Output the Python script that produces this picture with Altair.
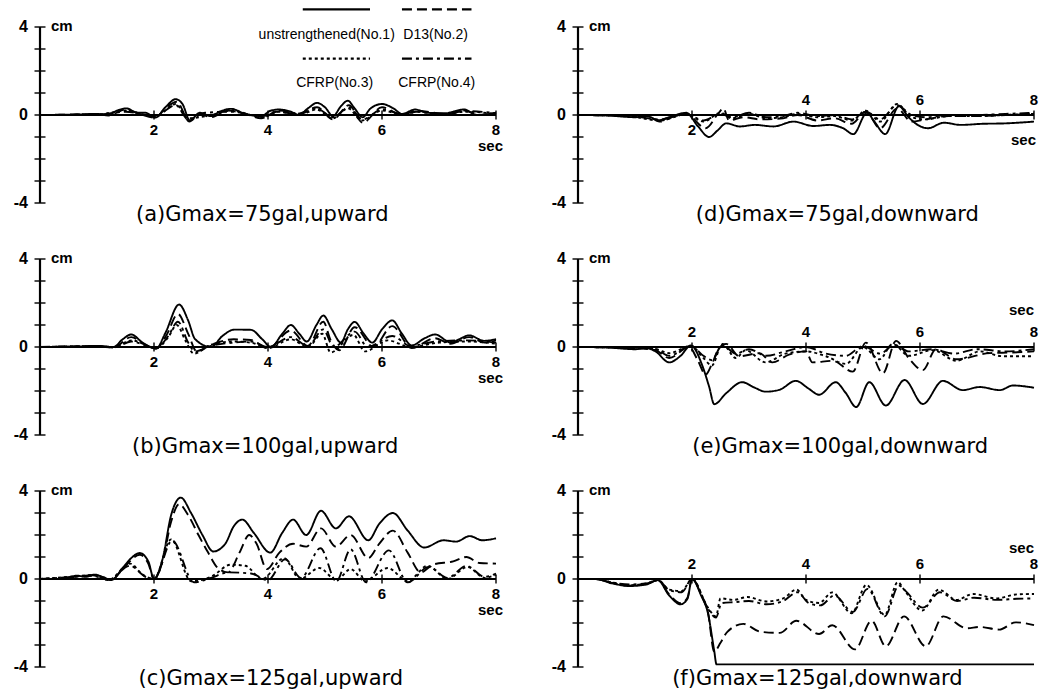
import altair as alt
import pandas as pd

# ---------------- data ----------------
SERIES = ["unstrengthened(No.1)", "D13(No.2)", "CFRP(No.3)", "CFRP(No.4)"]
DASHES = [[1, 0], [10, 5], [3, 3], [10, 4, 3, 4]]
X_TICKS = [2, 4, 6, 8]
Y_TICKS = [-4, -3, -2, -1, 0, 1, 2, 3, 4]
Y_LABELS = ["4", "0", "-4"]
Y_LABEL_POS = [4, 0, -4]

# (a) Gmax=75gal, upward
a_no1 = [(0, 0), (0.6, 0.02), (1.0, 0.05), (1.2, 0.0), (1.35, 0.2), (1.52, 0.3), (1.7, 0.1), (1.85, 0.1),
         (2.02, -0.12), (2.2, 0.35), (2.38, 0.72), (2.5, 0.5), (2.63, -0.25), (2.8, 0.1), (3.0, -0.05),
         (3.15, 0.15), (3.35, 0.28), (3.6, 0.05), (3.88, -0.05), (4.05, 0.2), (4.2, 0.25), (4.4, 0.15),
         (4.55, 0.0), (4.7, 0.3), (4.86, 0.55), (5.0, 0.35), (5.14, -0.05), (5.28, 0.4), (5.4, 0.65),
         (5.52, 0.3), (5.66, -0.1), (5.8, 0.3), (6.0, 0.5), (6.2, 0.3), (6.35, 0.05), (6.58, 0.25),
         (6.8, 0.1), (7.1, 0.08), (7.44, 0.25), (7.67, 0.0), (8, 0.1)]
a_no2 = [(0, 0), (1.0, 0.03), (1.2, -0.02), (1.5, 0.25), (1.75, 0.05), (2.02, -0.12), (2.2, 0.3), (2.4, 0.6),
         (2.62, -0.3), (2.8, 0.05), (3.0, -0.1), (3.3, 0.2), (3.6, 0.05), (3.88, -0.15), (4.15, 0.15),
         (4.5, 0.05), (4.86, 0.35), (5.14, -0.2), (5.42, 0.45), (5.66, -0.35), (6.0, 0.35), (6.35, 0.0),
         (6.6, 0.2), (7.1, 0.05), (7.45, 0.2), (7.7, 0.0), (8, 0.1)]
a_no3 = [(0, 0), (1.0, 0.02), (1.5, 0.2), (2.02, -0.08), (2.38, 0.5), (2.6, -0.15), (3.0, 0.0), (3.35, 0.2),
         (3.9, -0.1), (4.2, 0.15), (4.55, 0.0), (4.85, 0.25), (5.14, -0.15), (5.4, 0.3), (5.65, -0.25),
         (6.0, 0.2), (6.4, 0.0), (6.6, 0.15), (7.1, 0.03), (7.45, 0.15), (8, 0.05)]
a_no4 = [(0, 0), (1.0, 0.02), (1.5, 0.15), (2.02, -0.05), (2.38, 0.45), (2.6, -0.2), (2.9, 0.1), (3.35, 0.15),
         (3.9, -0.05), (4.2, 0.2), (4.55, 0.05), (4.85, 0.3), (5.14, -0.1), (5.42, 0.35), (5.66, -0.2),
         (6.0, 0.25), (6.4, 0.02), (6.6, 0.15), (7.1, 0.02), (7.45, 0.18), (8, 0.08)]

# (b) Gmax=100gal, upward
b_no1 = [(0, 0), (0.6, 0.02), (1.0, 0.05), (1.29, 0.0), (1.45, 0.35), (1.6, 0.57), (1.8, 0.2), (2.04, -0.07),
         (2.2, 0.64), (2.44, 1.93), (2.6, 1.2), (2.72, 0.36), (3.0, 0.0), (3.2, 0.5), (3.41, 0.79), (3.7, 0.78),
         (3.9, 0.35), (4.05, 0.0), (4.25, 0.6), (4.4, 1.0), (4.55, 0.6), (4.68, 0.25), (4.85, 1.0), (4.97, 1.43),
         (5.12, 0.8), (5.28, 0.2), (5.4, 0.8), (5.52, 1.14), (5.68, 0.6), (5.83, 0.2), (6.0, 0.8), (6.18, 1.21),
         (6.35, 0.6), (6.52, 0.07), (6.75, 0.4), (6.93, 0.57), (7.21, 0.2), (7.35, 0.35), (7.53, 0.53),
         (7.79, 0.28), (8, 0.36)]
b_no2 = [(0, 0), (1.0, 0.04), (1.29, -0.02), (1.6, 0.45), (1.85, 0.1), (2.04, -0.07), (2.22, 0.55), (2.42, 1.5),
         (2.6, 0.6), (2.75, -0.2), (3.0, 0.1), (3.4, 0.35), (3.7, 0.32), (4.0, -0.05), (4.4, 0.75), (4.7, 0.05),
         (4.97, 1.15), (5.1, 0.3), (5.25, -0.15), (5.52, 0.9), (5.85, 0.0), (6.18, 0.95), (6.52, -0.05),
         (6.93, 0.4), (7.2, 0.15), (7.53, 0.45), (7.8, 0.2), (8, 0.3)]
b_no3 = [(0, 0), (1.0, 0.03), (1.3, 0.0), (1.6, 0.3), (2.04, -0.05), (2.25, 0.45), (2.4, 1.0), (2.55, 0.3),
         (2.7, -0.3), (3.0, 0.1), (3.4, 0.25), (3.7, 0.2), (4.0, -0.05), (4.4, 0.35), (4.7, 0.0), (4.95, 0.6),
         (5.1, -0.25), (5.5, 0.55), (5.7, -0.2), (6.1, 0.3), (6.5, 0.0), (7.0, 0.2), (7.5, 0.25), (8, 0.15)]
b_no4 = [(0, 0), (1.0, 0.02), (1.3, -0.02), (1.6, 0.25), (2.04, -0.05), (2.25, 0.5), (2.42, 1.15), (2.6, 0.2),
         (2.72, -0.2), (3.0, 0.05), (3.4, 0.2), (3.7, 0.25), (4.0, 0.0), (4.4, 0.45), (4.7, 0.05), (4.97, 0.8),
         (5.15, 0.0), (5.52, 0.7), (5.75, 0.0), (6.18, 0.5), (6.5, 0.05), (6.95, 0.25), (7.5, 0.3), (8, 0.2)]

# (c) Gmax=125gal, upward
c_no1 = [(0, 0), (0.4, 0.0), (0.65, 0.15), (0.8, 0.1), (0.95, 0.2), (1.1, 0.1), (1.25, -0.05), (1.45, 0.5),
         (1.6, 0.95), (1.75, 1.18), (1.9, 0.8), (2.0, 0.0), (2.15, 0.9), (2.3, 2.9), (2.47, 3.7), (2.65, 3.0),
         (2.85, 2.0), (3.04, 1.25), (3.25, 1.6), (3.4, 2.4), (3.55, 2.7), (3.75, 2.1), (4.04, 1.2), (4.25, 2.1),
         (4.44, 2.7), (4.67, 2.0), (4.93, 3.1), (5.19, 2.3), (5.42, 2.85), (5.76, 1.76), (5.95, 2.5),
         (6.19, 3.0), (6.45, 2.2), (6.74, 1.43), (7.08, 1.76), (7.3, 1.7), (7.54, 1.95), (7.76, 1.76), (8, 1.85)]
c_no2 = [(0, 0), (0.4, 0.0), (0.65, 0.12), (0.95, 0.17), (1.25, -0.05), (1.45, 0.45), (1.75, 1.1), (1.9, 0.7),
         (2.0, 0.0), (2.15, 0.8), (2.3, 2.6), (2.44, 3.4), (2.6, 2.9), (2.78, 2.0), (2.95, 1.2), (3.12, 0.5),
         (3.3, 0.3), (3.5, 1.2), (3.67, 2.0), (3.8, 1.6), (3.98, 0.45), (4.2, 1.2), (4.44, 1.6), (4.67, 1.47),
         (4.93, 2.3), (5.19, 1.47), (5.45, 2.0), (5.76, 0.95), (5.95, 1.6), (6.19, 2.2), (6.45, 1.2),
         (6.68, 0.3), (6.9, 0.66), (7.25, 0.8), (7.48, 1.0), (7.71, 0.73), (8, 0.7)]
c_no3 = [(0, 0), (0.6, 0.12), (0.9, 0.18), (1.2, -0.05), (1.58, 0.7), (1.8, 0.2), (2.0, 0), (2.3, 1.8),
         (2.65, -0.1), (3.0, 0.1), (3.35, 0.65), (3.6, 0.6), (3.9, 0.0), (4.28, 0.95), (4.56, 0), (4.9, 0.5),
         (5.2, -0.05), (5.45, 0.45), (5.7, -0.1), (6.1, 0.5), (6.45, -0.1), (6.8, 0.6), (7.15, 0),
         (7.5, 0.55), (7.8, 0.05), (8, 0.2)]
c_no4 = [(0, 0), (0.6, 0.1), (0.9, 0.15), (1.2, -0.03), (1.58, 0.6), (1.85, 0.1), (2.0, 0), (2.32, 1.75),
         (2.7, -0.15), (3.0, 0.05), (3.3, 0.3), (3.7, 0.25), (4.0, -0.05), (4.3, 0.9), (4.58, 0.05),
         (4.92, 1.4), (5.2, -0.1), (5.45, 1.35), (5.72, -0.15), (6.12, 1.3), (6.45, -0.15), (6.82, 0.55),
         (7.15, 0.05), (7.48, 0.6), (7.8, 0.1), (8, 0.25)]

# (d) Gmax=75gal, downward
d_no1 = [(0, 0), (0.5, -0.02), (1.0, -0.1), (1.2, -0.05), (1.42, -0.24), (1.6, -0.1), (1.9, 0.1), (2.1, -0.5),
         (2.3, -1.0), (2.45, -0.7), (2.6, -0.38), (2.84, -0.52), (3.1, -0.45), (3.43, -0.52), (3.78, -0.3),
         (4.13, -0.5), (4.42, -0.45), (4.65, -0.6), (4.83, -0.87), (5.07, 0.1), (5.2, -0.3), (5.39, -0.87),
         (5.63, 0.4), (5.8, -0.1), (5.96, -0.45), (6.14, -0.6), (6.42, -0.35), (6.71, -0.45), (7.1, -0.4),
         (7.5, -0.38), (8, -0.3)]
d_no2 = [(0, 0), (0.8, -0.03), (1.2, -0.05), (1.45, -0.3), (1.65, -0.1), (1.9, 0.05), (2.24, -0.6), (2.47, 0.1),
         (2.55, 0.3), (2.65, -0.25), (2.9, -0.1), (3.2, -0.2), (3.6, -0.15), (3.85, 0.0), (4.2, -0.25),
         (4.5, -0.15), (4.8, -0.4), (5.05, 0.15), (5.3, -0.6), (5.6, 0.3), (5.85, -0.3), (6.1, -0.2),
         (6.5, -0.05), (7.0, -0.05), (7.5, 0.0), (8, 0.05)]
d_no3 = [(0, 0), (0.8, -0.03), (1.45, -0.25), (1.7, -0.08), (1.9, 0.05), (2.2, -0.3), (2.5, 0.1), (2.7, -0.15),
         (3.0, 0.05), (3.3, -0.15), (3.6, -0.1), (3.85, 0.05), (4.2, -0.1), (4.5, -0.05), (4.8, -0.25),
         (5.05, 0.2), (5.3, -0.3), (5.6, 0.5), (5.85, -0.1), (6.1, -0.2), (6.5, -0.05), (7.0, -0.05),
         (7.5, 0.0), (8, 0.05)]
d_no4 = [(0, 0), (0.8, -0.02), (1.45, -0.2), (1.7, -0.05), (1.9, 0.05), (2.2, -0.25), (2.5, 0.05), (2.7, -0.1),
         (3.0, 0.1), (3.3, -0.1), (3.6, -0.05), (3.85, 0.1), (4.2, -0.05), (4.5, 0.0), (4.8, -0.2),
         (5.05, 0.15), (5.3, -0.2), (5.6, 0.45), (5.85, 0.0), (6.1, -0.1), (6.5, 0.0), (7.0, 0.0),
         (7.5, 0.05), (8, 0.1)]

# (e) Gmax=100gal, downward
e_no1 = [(0, 0), (0.5, -0.02), (1.0, -0.1), (1.2, -0.05), (1.36, -0.2), (1.6, -0.7), (1.8, -0.4), (1.98, 0.07),
         (2.18, -0.84), (2.3, -1.8), (2.39, -2.6), (2.6, -2.1), (2.88, -1.6), (3.1, -1.85), (3.29, -2.03),
         (3.53, -1.95), (3.82, -1.54), (4.05, -1.9), (4.23, -2.17), (4.52, -1.6), (4.7, -2.1), (4.88, -2.73),
         (5.11, -1.6), (5.4, -2.66), (5.73, -1.5), (6.05, -2.59), (6.4, -1.54), (6.75, -1.96), (7.05, -1.82),
         (7.4, -1.96), (7.63, -1.75), (8, -1.85)]
e_no2 = [(0, 0), (1.0, -0.05), (1.36, -0.15), (1.6, -0.5), (1.95, 0.0), (2.1, -0.6), (2.24, -1.26), (2.35, -0.77),
         (2.47, -0.07), (2.6, 0.14), (2.83, -0.42), (3.18, -0.28), (3.41, -0.7), (3.7, -0.35), (4.0, -0.2),
         (4.11, -0.7), (4.47, -0.63), (4.82, -1.12), (5.05, 0.2), (5.35, -1.19), (5.58, 0.28), (5.8, -0.5),
         (6.05, -1.05), (6.28, -0.1), (6.64, -0.56), (7.22, -0.28), (7.6, -0.25), (8, -0.2)]
e_no3 = [(0, 0), (1.0, -0.05), (1.36, -0.1), (1.6, -0.28), (1.98, 0.05), (2.2, -0.5), (2.35, -0.84), (2.53, 0.14),
         (2.77, -0.5), (2.94, -0.15), (3.29, -0.7), (3.64, -0.3), (4.0, -0.2), (4.35, -0.42), (4.7, -0.77),
         (5.0, 0.0), (5.29, -0.56), (5.52, 0.14), (5.81, -0.4), (6.22, -0.14), (6.64, -0.63), (7.05, -0.2),
         (7.45, -0.42), (8, -0.42)]
e_no4 = [(0, 0), (1.0, -0.03), (1.36, -0.1), (1.6, -0.4), (1.98, 0.05), (2.2, -0.4), (2.35, -0.6), (2.53, 0.1),
         (2.77, -0.3), (3.0, -0.1), (3.3, -0.4), (3.64, -0.2), (4.0, 0.0), (4.35, -0.3), (4.7, -0.4),
         (5.0, 0.05), (5.3, -0.3), (5.55, 0.1), (5.8, -0.2), (6.2, -0.1), (6.6, -0.3), (7.0, -0.1),
         (7.5, -0.2), (8, -0.1)]

# (f) Gmax=125gal, downward
f_no1 = [(0, 0), (0.3, 0.0), (0.6, -0.2), (0.9, -0.32), (1.2, -0.25), (1.4, -0.05), (1.6, -0.75), (1.8, -1.15),
         (1.92, -0.9), (2.0, 0.0), (2.16, -0.75), (2.28, -1.56), (2.39, -3.27), (2.43, -3.88), (8, -3.88)]
f_no2 = [(0, 0), (0.3, 0.0), (0.6, -0.18), (0.9, -0.3), (1.2, -0.22), (1.4, -0.05), (1.6, -0.7), (1.8, -1.1),
         (1.92, -0.85), (2.0, 0.0), (2.16, -0.7), (2.28, -1.5), (2.39, -3.3), (2.5, -2.9), (2.62, -2.4),
         (2.9, -2.04), (3.2, -2.4), (3.54, -2.45), (3.83, -1.9), (4.23, -2.5), (4.46, -2.1), (4.86, -3.2),
         (5.15, -1.9), (5.4, -3.06), (5.72, -1.7), (6.1, -3.06), (6.41, -1.7), (6.82, -2.24), (7.05, -2.18),
         (7.39, -2.3), (7.68, -1.97), (8, -2.1)]
f_no3 = [(0, 0), (0.3, 0.0), (0.6, -0.15), (0.9, -0.28), (1.2, -0.2), (1.4, -0.05), (1.6, -0.48), (1.82, -0.55),
         (2.0, 0.0), (2.28, -1.3), (2.42, -1.7), (2.5, -0.88), (2.73, -0.95), (2.97, -0.82), (3.31, -1.02),
         (3.6, -0.88), (3.83, -0.48), (4.0, -0.95), (4.23, -1.09), (4.46, -0.61), (4.8, -1.56), (5.06, -0.27),
         (5.38, -1.63), (5.61, -0.14), (5.72, -0.48), (6.04, -1.43), (6.33, -0.48), (6.64, -0.95),
         (6.93, -0.68), (7.33, -0.88), (7.7, -0.7), (8, -0.68)]
f_no4 = [(0, 0), (0.3, 0.0), (0.6, -0.16), (0.9, -0.25), (1.2, -0.2), (1.4, -0.05), (1.6, -0.5), (1.82, -0.6),
         (2.0, 0.0), (2.28, -1.35), (2.42, -1.75), (2.52, -1.1), (2.75, -1.05), (3.0, -1.0), (3.31, -1.15),
         (3.6, -1.0), (3.85, -0.6), (4.05, -1.1), (4.25, -1.2), (4.5, -0.75), (4.82, -1.5), (5.08, -0.45),
         (5.38, -1.7), (5.63, -0.3), (5.75, -0.55), (6.05, -1.3), (6.35, -0.6), (6.65, -1.0), (6.95, -0.85),
         (7.35, -0.95), (7.7, -0.9), (8, -0.88)]

CAPTIONS = ["(a)Gmax=75gal,upward", "(b)Gmax=100gal,upward", "(c)Gmax=125gal,upward",
            "(d)Gmax=75gal,downward", "(e)Gmax=100gal,downward", "(f)Gmax=125gal,downward"]
CAPTION_T = [3.9, 3.95, 4.05, 4.55, 4.6, 4.2]

# legend placement (panel a)
LEG_T = [4.61, 6.35, 4.61, 6.35]
LEG_T2 = [5.79, 7.57, 5.79, 7.57]
LEG_V = [4.8, 4.8, 2.56, 2.56]
LEG_LAB_T = [5.03, 6.94, 5.17, 6.96]
LEG_LAB_V = [3.64, 3.64, 1.44, 1.44]

# ---------------- styling ----------------
W, H = 456, 176
XS = alt.Scale(domain=[0, 8], nice=False, zero=False)
YS = alt.Scale(domain=[-4, 4], nice=False, zero=False)
NUM_FONT = "Liberation Sans"
CAP_FONT = "DejaVu Sans"
LEG_FONT = "Liberation Sans Narrow, Liberation Sans"


def X(f="t"):
    return alt.X(f"{f}:Q", scale=XS, axis=None)


def Y(f="v"):
    return alt.Y(f"{f}:Q", scale=YS, axis=None)


DASH = alt.StrokeDash("s:N", scale=alt.Scale(domain=SERIES, range=DASHES), legend=None)


def panel(series, caption, cap_t, below, above, sec_dy, sec_dx, legend=False):
    rows = []
    for name, pts in zip(SERIES, series):
        for t, v in pts:
            rows.append({"t": t, "v": v, "s": name})
    df = pd.DataFrame(rows)
    lines = alt.Chart(df).mark_line(color="black", strokeWidth=1.9, interpolate="monotone").encode(
        x=X(), y=Y(), strokeDash=DASH)

    yaxis = alt.Chart(pd.DataFrame({"t": [0.0], "v": [-4.0], "v2": [4.0]})).mark_rule(
        color="black", strokeWidth=2.2).encode(x=X(), y=Y(), y2="v2:Q")
    xaxis = alt.Chart(pd.DataFrame({"t": [0.0], "t2": [8.0], "v": [0.0]})).mark_rule(
        color="black", strokeWidth=1.8).encode(x=X(), x2="t2:Q", y=Y())
    yt = alt.Chart(pd.DataFrame({"t": [0.0] * len(Y_TICKS), "v": Y_TICKS})).mark_tick(
        orient="horizontal", size=11, thickness=2, color="black").encode(x=X(), y=Y())
    xt = alt.Chart(pd.DataFrame({"t": X_TICKS, "v": [0.0] * len(X_TICKS)})).mark_tick(
        orient="vertical", size=9, thickness=2, color="black").encode(x=X(), y=Y())
    ylab = alt.Chart(pd.DataFrame({"t": [0.0] * 3, "v": Y_LABEL_POS, "lab": Y_LABELS})).mark_text(
        align="right", baseline="middle", dx=-12, font=NUM_FONT, fontSize=16, fontWeight="bold",
        color="black").encode(x=X(), y=Y(), text="lab:N")
    cm = alt.Chart(pd.DataFrame({"t": [0.0], "v": [4.0]})).mark_text(
        text="cm", align="left", baseline="middle", dx=11, dy=-1, font=NUM_FONT, fontSize=15,
        fontWeight="bold", color="black").encode(x=X(), y=Y())
    layers = [lines, yaxis, xaxis, yt, xt, ylab, cm]
    if below:
        layers.append(alt.Chart(pd.DataFrame({"t": below, "v": [0.0] * len(below),
                                              "lab": [str(b) for b in below]})).mark_text(
            align="center", baseline="middle", dy=15, font=NUM_FONT, fontSize=15, fontWeight="bold",
            color="black").encode(x=X(), y=Y(), text="lab:N"))
    if above:
        layers.append(alt.Chart(pd.DataFrame({"t": above, "v": [0.0] * len(above),
                                              "lab": [str(b) for b in above]})).mark_text(
            align="center", baseline="middle", dy=-15, font=NUM_FONT, fontSize=15, fontWeight="bold",
            color="black").encode(x=X(), y=Y(), text="lab:N"))
    layers.append(alt.Chart(pd.DataFrame({"t": [8.0], "v": [0.0]})).mark_text(
        text="sec", align="right", baseline="middle", dx=sec_dx, dy=sec_dy, font=NUM_FONT, fontSize=15,
        fontWeight="bold", color="black").encode(x=X(), y=Y()))
    layers.append(alt.Chart(pd.DataFrame({"t": [cap_t], "v": [-4.0]})).mark_text(
        text=caption, align="center", baseline="middle", dy=12, font=CAP_FONT, fontSize=21,
        color="black").encode(x=X(), y=Y()))
    if legend:
        leg = pd.DataFrame({"t": LEG_T, "t2": LEG_T2, "v": LEG_V, "s": SERIES})
        layers.append(alt.Chart(leg).mark_rule(color="black", strokeWidth=2.2).encode(
            x=X(), x2="t2:Q", y=Y(), strokeDash=DASH))
        labs = pd.DataFrame({"t": LEG_LAB_T, "v": LEG_LAB_V, "lab": SERIES})
        layers.append(alt.Chart(labs).mark_text(
            align="center", baseline="middle", font=LEG_FONT, fontSize=14, color="black").encode(
            x=X(), y=Y(), text="lab:N"))
    return alt.layer(*layers).properties(width=W, height=H)


pa = panel([a_no1, a_no2, a_no3, a_no4], CAPTIONS[0], CAPTION_T[0], [2, 4, 6, 8], [], 31, 7, legend=True)
pb = panel([b_no1, b_no2, b_no3, b_no4], CAPTIONS[1], CAPTION_T[1], [2, 4, 6, 8], [], 31, 7)
pc = panel([c_no1, c_no2, c_no3, c_no4], CAPTIONS[2], CAPTION_T[2], [2, 4, 6, 8], [], 31, 7)
pd_ = panel([d_no1, d_no2, d_no3, d_no4], CAPTIONS[3], CAPTION_T[3], [2], [4, 6, 8], 25, 2)
pe = panel([e_no1, e_no2, e_no3, e_no4], CAPTIONS[4], CAPTION_T[4], [], [2, 4, 6, 8], -37, 0)
pf = panel([f_no1, f_no2, f_no3, f_no4], CAPTIONS[5], CAPTION_T[5], [], [2, 4, 6, 8], -31, 0)

chart = alt.concat(pa, pd_, pb, pe, pc, pf, columns=2, spacing={"row": 56, "column": 82},
                   bounds="flush").properties(
    padding={"left": 5, "top": 0, "right": 0, "bottom": 0},
    background="white",
).configure_view(stroke=None)

chart.save("out.html", embed_options={"renderer": "svg", "actions": False})
